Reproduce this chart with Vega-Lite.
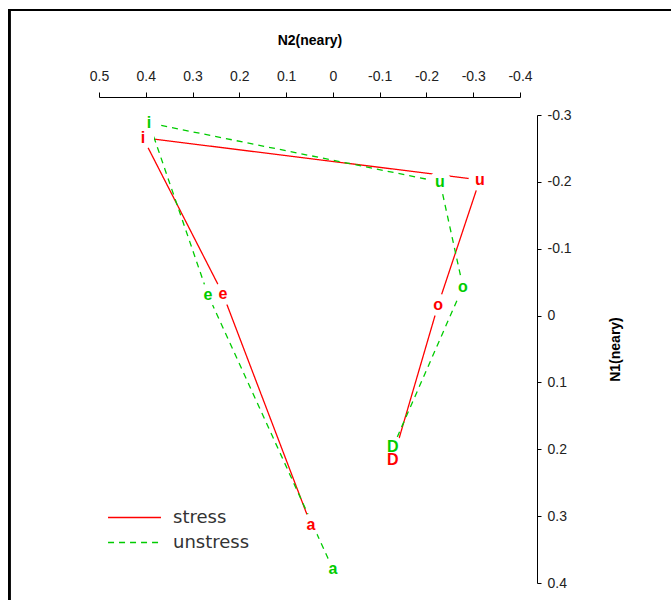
{
  "$schema": "https://vega.github.io/schema/vega-lite/v6.json",
  "width": 421,
  "height": 468,
  "autosize": "none",
  "padding": {"left": 99, "top": 115, "right": 151, "bottom": 17},
  "background": "white",
  "config": {"view": {"stroke": null}, "font": "Liberation Sans"},
  "data": {"values": [
    {"type": "stress", "vowel": "D", "ord": 1, "n2": -0.128, "n1": 0.216},
    {"type": "stress", "vowel": "o", "ord": 2, "n2": -0.225, "n1": -0.016},
    {"type": "stress", "vowel": "u", "ord": 3, "n2": -0.314, "n1": -0.203},
    {"type": "stress", "vowel": "i", "ord": 4, "n2": 0.406, "n1": -0.266},
    {"type": "stress", "vowel": "e", "ord": 5, "n2": 0.235, "n1": -0.032},
    {"type": "stress", "vowel": "a", "ord": 6, "n2": 0.047, "n1": 0.313},
    {"type": "unstress", "vowel": "D", "ord": 1, "n2": -0.128, "n1": 0.197},
    {"type": "unstress", "vowel": "o", "ord": 2, "n2": -0.278, "n1": -0.043},
    {"type": "unstress", "vowel": "u", "ord": 3, "n2": -0.229, "n1": -0.2},
    {"type": "unstress", "vowel": "i", "ord": 4, "n2": 0.393, "n1": -0.288},
    {"type": "unstress", "vowel": "e", "ord": 5, "n2": 0.267, "n1": -0.031},
    {"type": "unstress", "vowel": "a", "ord": 6, "n2": 0.0, "n1": 0.379}
  ]},
  "encoding": {
    "x": {"field": "n2", "type": "quantitative",
      "scale": {"domain": [-0.4, 0.5], "reverse": true, "nice": false, "zero": false},
      "axis": {"orient": "top", "offset": 18, "title": "N2(neary)", "values": [0.5, 0.4, 0.3, 0.2, 0.1, 0, -0.1, -0.2, -0.3, -0.4],
        "labelExpr": "'' + datum.value", "labelFlush": false, "labelOverlap": false,
        "grid": false, "domainColor": "#000", "tickColor": "#000", "tickSize": 5, "labelPadding": 9,
        "labelFontSize": 14, "labelColor": "#222", "titleFontSize": 14, "titleFontWeight": "bold", "titleColor": "#000", "titlePadding": 22}},
    "y": {"field": "n1", "type": "quantitative",
      "scale": {"domain": [-0.3, 0.4], "reverse": true, "nice": false, "zero": false},
      "axis": {"orient": "right", "offset": 17, "title": "N1(neary)", "values": [-0.3, -0.2, -0.1, 0, 0.1, 0.2, 0.3, 0.4],
        "labelExpr": "'' + datum.value", "labelFlush": false, "labelOverlap": false,
        "grid": false, "domainColor": "#000", "tickColor": "#000", "tickSize": 4, "labelPadding": 6,
        "labelFontSize": 14, "labelColor": "#222", "titleFontSize": 14, "titleFontWeight": "bold", "titleColor": "#000", "titleAngle": 270, "titlePadding": 51}}
  },
  "layer": [
    {
      "mark": {"type": "rect", "fill": null, "stroke": "#000", "strokeWidth": 2, "clip": false},
      "encoding": {
        "x": {"datum": 0.692, "type": "quantitative"},
        "x2": {"datum": -1.2},
        "y": {"datum": -0.457, "type": "quantitative"},
        "y2": {"datum": 1.2}
      }
    },
    {
      "mark": {"type": "line", "strokeWidth": 1.3},
      "encoding": {
        "order": {"field": "ord"},
        "color": {"field": "type", "type": "nominal", "scale": {"domain": ["stress", "unstress"], "range": ["#ff0000", "#00cc00"]},
          "legend": {"title": null, "orient": "none", "legendX": 8, "legendY": 390, "symbolType": "stroke", "symbolSize": 2800, "symbolStrokeWidth": 1.5,
            "labelFontSize": 18, "labelColor": "#333", "labelFont": "DejaVu Sans", "rowPadding": 0, "clipHeight": 25, "labelOffset": 11}},
        "strokeDash": {"field": "type", "type": "nominal", "scale": {"domain": ["stress", "unstress"], "range": [[1, 0], [6, 5]]}, "legend": null}
      }
    },
    {
      "mark": {"type": "point", "shape": "circle", "filled": true, "size": 500, "strokeWidth": 0},
      "encoding": {"color": {"value": "white"}, "opacity": {"value": 1}}
    },
    {
      "mark": {"type": "text", "fontSize": 16, "fontWeight": "bold", "baseline": "middle", "align": "center"},
      "encoding": {
        "text": {"field": "vowel"},
        "color": {"field": "type", "type": "nominal", "legend": null}
      }
    }
  ]
}
